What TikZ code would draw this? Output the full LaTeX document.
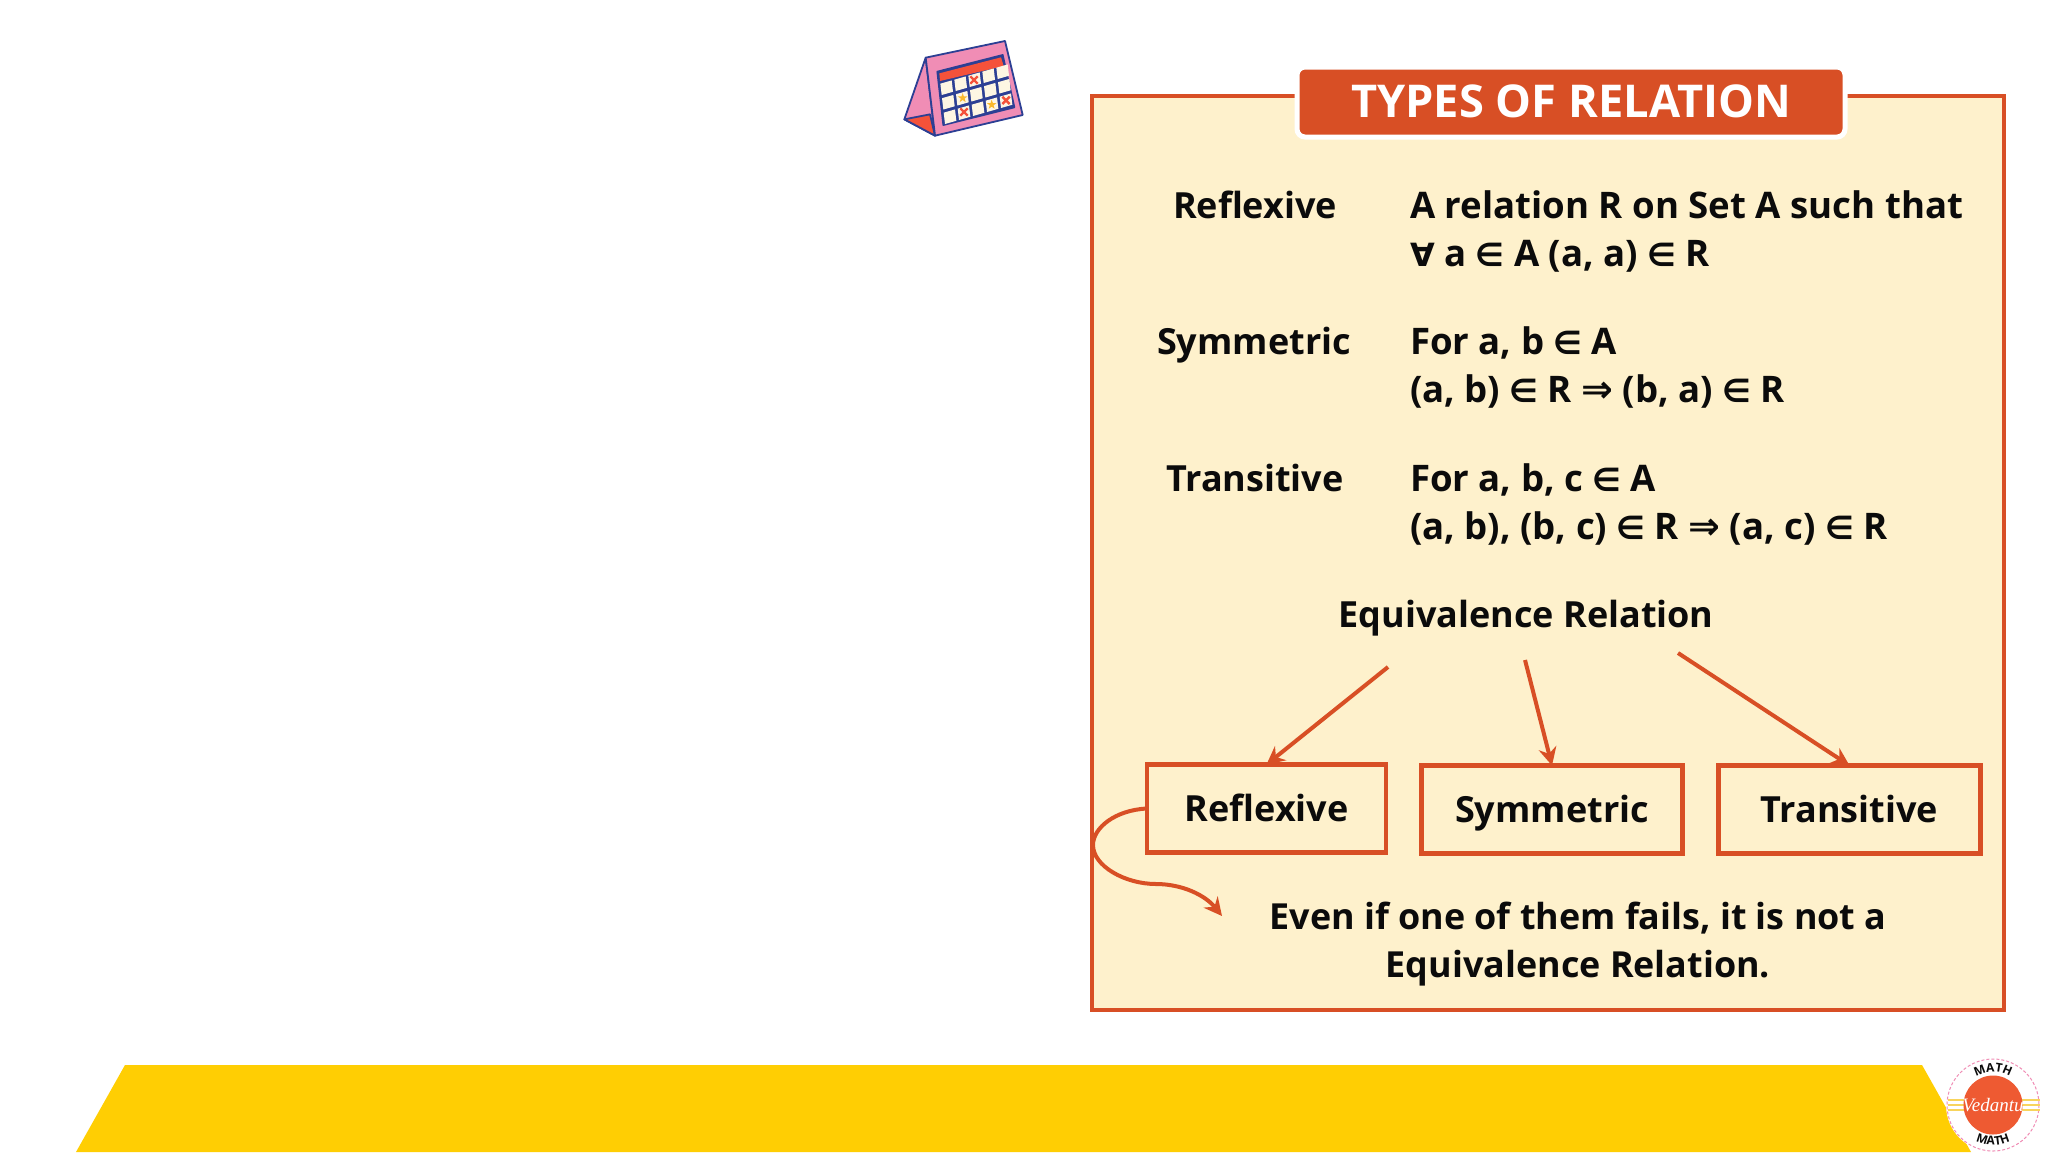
\documentclass[tikz,border=0pt]{standalone}
\usepackage{fontspec}
\setmainfont{Open Sans}
\newfontfamily\symf{DejaVu Sans}
\newfontfamily\logof{Liberation Serif}
\usetikzlibrary{arrows.meta,calc,decorations.text}
\definecolor{rust}{HTML}{D84F25}
\definecolor{panel}{HTML}{FEF1CC}
\definecolor{ink}{HTML}{0B0B0B}
\definecolor{band}{HTML}{FFCE03}
\definecolor{calblue}{HTML}{2C3F94}
\definecolor{calpink}{HTML}{F08DB5}
\definecolor{calred}{HTML}{F4523A}
\definecolor{calcream}{HTML}{FDF6E3}
\definecolor{calstar}{HTML}{F9B92E}
\definecolor{logoyel}{HTML}{F8D45C}
\definecolor{logoorg}{HTML}{EE5A32}
\newcommand{\sy}[1]{{\symf\bfseries\fontsize{16}{24}\selectfont #1}}
\newcommand{\syl}[1]{{\symf\bfseries\fontsize{19}{24}\selectfont #1}}
\tikzset{
  txt/.style={font=\bfseries\fontsize{18.3}{24}\selectfont,text=ink,inner sep=0pt,outer sep=0pt},
  lab/.style={txt,font=\bfseries\fontsize{18}{24}\selectfont,text height=13pt,text depth=0pt},
  deftxt/.style={txt,align=left,anchor=north west},
  boxed/.style={lab,draw=rust,line width=2.2pt},
  conn/.style={draw=rust,line width=2pt,-{Stealth[length=9pt,width=9pt,inset=3pt]}},
  calline/.style={draw=calblue,line width=.9pt,line join=round},
}
\begin{document}
\begin{tikzpicture}[x=.5pt,y=-.5pt]
\useasboundingbox (0,0) rectangle (2048,1152);
\fill[white] (0,0) rectangle (2048,1152);
% bottom band
\fill[band] (76,1152) -- (125,1065) -- (1922,1065) -- (1971,1152) -- cycle;
% calendar
\begin{scope}[shift={(880,20)},x=.16667pt,y=-.16667pt]
  \filldraw[calline,fill=calpink] (137,113) -- (73,298) -- (165,347) -- cycle;
  \filldraw[calline,fill=calred] (73,298) -- (150,283) -- (165,347) -- cycle;
  \filldraw[calline,fill=calpink] (137,113) -- (375,63) -- (428,285) -- (165,347) -- cycle;
  \filldraw[calline,fill=calblue] (172,155) -- (368,105) -- (403,262) -- (190,315) -- cycle;
  \fill[calred] (178,160) -- (363,112) -- (371,138) -- (180,183) -- cycle;
  \foreach \i in {0,...,4}{\foreach \j in {0,1,2}{
    \fill[calcream] ({181+42*\i+5*\j},{191-12*\i+43.5*\j}) -- ++(34,-9.7) -- ++(4,34) -- ++(-34,9.7) -- cycle;
  }}
  \foreach \a/\b in {282/180,252/276,378/241}{
    \draw[calred,line width=1.2pt] (\a-11,\b-11) -- (\a+11,\b+11) (\a-11,\b+11) -- (\a+11,\b-11);
  }
  \foreach \a/\b in {248/234,335/254}{
    \fill[calstar,shift={(\a,\b)}] (198:15) -- (234:6) -- (270:15) -- (306:6) -- (342:15) -- (18:6) -- (54:15) -- (90:6) -- (126:15) -- (162:6) -- cycle;
  }
\end{scope}
% panel
\draw[rust,line width=2.2pt,fill=panel] (1092,96) rectangle (2004,1010);
\node[draw=white,line width=2.5pt,fill=rust,rounded corners=4pt,minimum width=274pt,minimum height=35pt,inner sep=0pt,outer sep=0pt,text=white,font=\bfseries\fontsize{22.6}{24}\selectfont] (title) at (1571,102) {\raisebox{1pt}{TYPES OF RELATION}};
% rows
\node[lab] (n1) at (1255,205) {Reflexive};
\node[lab] (n2) at (1254,341) {Symmetric};
\node[lab] (n3) at (1255,478) {Transitive};
\node[deftxt] (d1) at (1410,191) {A relation R on Set A such that\\ \sy{∀} a \sy{∈} A (a, a) \sy{∈} R};
\node[deftxt] (d2) at (1410,327) {For a, b \sy{∈} A\\ (a, b) \sy{∈} R \syl{⇒} (b, a) \sy{∈} R};
\node[deftxt] (d3) at (1410,464) {For a, b, c \sy{∈} A\\ (a, b), (b, c) \sy{∈} R \syl{⇒} (a, c) \sy{∈} R};
\node[lab] (eq) at (1526,614) {Equivalence Relation};
% boxes
\node[boxed,minimum width=119.5pt,minimum height=44pt] (ref) at (1266.5,808.5) {Reflexive};
\node[boxed,minimum width=130.5pt,minimum height=44pt] (sym) at (1552,809.5) {Symmetric};
\node[boxed,minimum width=131pt,minimum height=44pt] (tra) at (1849.5,809.5) {Transitive};
% connectors
\coordinate (e1) at (1388,667);
\coordinate (e2) at (1525,660);
\coordinate (e3) at (1678,653);
\draw[conn] (e1) -- (ref.north);
\draw[conn] (e2) -- (sym.north);
\draw[conn] (e3) -- (tra.north);
% note
\node[txt,font=\bfseries\fontsize{17.95}{24}\selectfont,align=center,anchor=north] (note) at (1578,902) {Even if one of them fails, it is not a\\ Equivalence Relation.};
\coordinate (c1) at (1093,845);
\coordinate (c2) at (1156,884);
\coordinate (c3) at (1222,916);
\draw[conn] (ref.west) .. controls (1115,810) and (1093,828) .. (c1) .. controls (1093,866) and (1125,884) .. (c2) .. controls (1182,884) and (1205,895) .. (c3);
% logo
\fill[white] (1993,1105) circle[radius=47];
\draw[calpink,line width=.5pt,dash pattern=on 1.5pt off 1pt] (1993,1105) circle[radius=46];
\foreach \d in {-5,0,5}{
  \draw[logoyel,line width=.9pt] (1948,1105+\d) -- (2040,1105+\d);
}
\fill[logoorg] (1993,1105) circle[radius=29.5];
\node[inner sep=0pt,outer sep=0pt,text=white,font=\logof\itshape\fontsize{9.5}{10}\selectfont] (logo) at (1993,1105) {Vedantu};
\begin{scope}[shift={(1993,1105)},x=.5pt,y=.5pt]
  \path[decorate,decoration={text along path,text align=center,text={|\fontsize{6}{6}\bfseries\selectfont\color{ink}|MATH}}] (150:33) arc[start angle=150,end angle=30,radius=33];
  \path[decorate,decoration={text along path,text align=center,text={|\fontsize{6}{6}\bfseries\selectfont\color{ink}|MATH}}] (215:40) arc[start angle=215,end angle=325,radius=40];
\end{scope}
\end{tikzpicture}
\end{document}
